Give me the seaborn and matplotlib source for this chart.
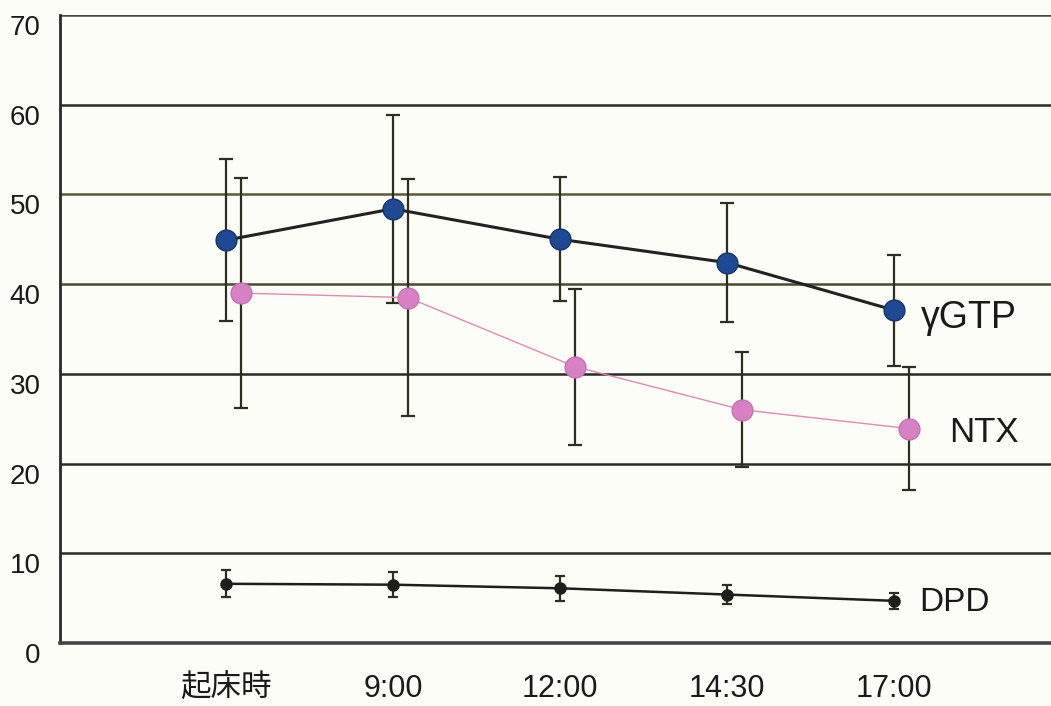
import matplotlib
matplotlib.use("Agg")
import matplotlib.pyplot as plt
import seaborn as sns
import numpy as np
import pandas as pd

# Sampling times and marker values
times = ["起床時", "9:00", "12:00", "14:30", "17:00"]
ggtp_mean = [44.9, 48.4, 45.0, 42.4, 37.1]
ggtp_err = [9.0, 10.5, 6.9, 6.6, 6.2]
ntx_mean = [39.0, 38.5, 30.8, 26.0, 23.9]
ntx_err = [12.8, 13.2, 8.7, 6.4, 6.9]
dpd_mean = [6.6, 6.5, 6.1, 5.4, 4.7]
dpd_err = [1.5, 1.4, 1.4, 1.1, 0.9]
y_ticks = [0, 10, 20, 30, 40, 50, 60, 70]

sns.set_theme(style="white")
plt.rcParams["font.family"] = ["Liberation Sans", "Noto Sans CJK JP", "DejaVu Sans"]

pos = np.arange(len(times), dtype=float)
ntx_shift = 0.09

df = pd.DataFrame({
    "x": np.concatenate([pos, pos + ntx_shift, pos]),
    "value": ggtp_mean + ntx_mean + dpd_mean,
    "series": ["γGTP"] * 5 + ["NTX"] * 5 + ["DPD"] * 5,
})

fig = plt.figure(figsize=(10.51, 7.06), dpi=100)
fig.patch.set_facecolor("#fdfdf8")
ax = fig.add_axes([60 / 1051, 1 - 643 / 706, 1 - 60 / 1051, (643 - 15) / 706])
ax.set_facecolor("#fdfdf8")

# horizontal reference lines
grid_colors = {10: "#2a2a24", 20: "#2a2a24", 30: "#2a2a24", 40: "#4a4a30",
               50: "#5a5a38", 60: "#2a2a24", 70: "#4a4a44"}
for yv, c in grid_colors.items():
    ax.axhline(yv, color=c, lw=1.8, zorder=1)

err_color = "#2e2e20"
ax.errorbar(pos, ggtp_mean, yerr=ggtp_err, fmt="none", ecolor=err_color,
            elinewidth=1.6, capsize=5, capthick=1.6, zorder=2)
ax.errorbar(pos + ntx_shift, ntx_mean, yerr=ntx_err, fmt="none", ecolor=err_color,
            elinewidth=1.6, capsize=5, capthick=1.6, zorder=2)
ax.errorbar(pos, dpd_mean, yerr=dpd_err, fmt="none", ecolor=err_color,
            elinewidth=1.6, capsize=3.5, capthick=1.6, zorder=2)

styles = {
    "γGTP": dict(color="#222222", lw=2.2, mfc="#1d4a93", mec="#16346a", ms=15),
    "NTX": dict(color="#e08ab0", lw=1.0, mfc="#d880c4", mec="#c870b2", ms=15),
    "DPD": dict(color="#1e1e1a", lw=1.8, mfc="#1e1e1a", mec="#1e1e1a", ms=8),
}
for name, st in styles.items():
    sub = df[df["series"] == name]
    sns.lineplot(data=sub, x="x", y="value", ax=ax, color=st["color"], lw=st["lw"],
                 marker="o", markersize=st["ms"], markerfacecolor=st["mfc"],
                 markeredgecolor=st["mec"], markeredgewidth=1.0, zorder=3,
                 legend=False, estimator=None)

# series labels beside the last points
ax.text(4.16, ggtp_mean[-1] - 0.9, "γGTP", fontsize=27, color="#1a1a1a", va="center", ha="left")
ax.text(4.33, ntx_mean[-1] - 0.4, "NTX", fontsize=25, color="#1a1a1a", va="center", ha="left")
ax.text(4.15, dpd_mean[-1] - 0.2, "DPD", fontsize=24, color="#1a1a1a", va="center", ha="left")

ax.set_xlim(-0.994, 4.94)
ax.set_ylim(0, 70)
ax.set_xticks(pos)
ax.set_xticklabels(times, fontsize=22, color="#1a1a1a")
ax.set_yticks(y_ticks)
ax.set_yticklabels([str(v) for v in y_ticks], fontsize=20, color="#1a1a1a")
ax.tick_params(axis="x", direction="in", length=6, width=1.2, color="#333333", pad=22)
ax.tick_params(axis="y", length=0, pad=14)
for lbl in ax.get_yticklabels():
    lbl.set_verticalalignment("top")
ax.set_xlabel("")
ax.set_ylabel("")

for side in ["top", "right"]:
    ax.spines[side].set_visible(False)
ax.spines["left"].set_color("#2a2a2a")
ax.spines["left"].set_linewidth(2.0)
ax.spines["bottom"].set_color("#444444")
ax.spines["bottom"].set_linewidth(2.6)

fig.savefig("out.png", dpi=100, facecolor=fig.get_facecolor())
